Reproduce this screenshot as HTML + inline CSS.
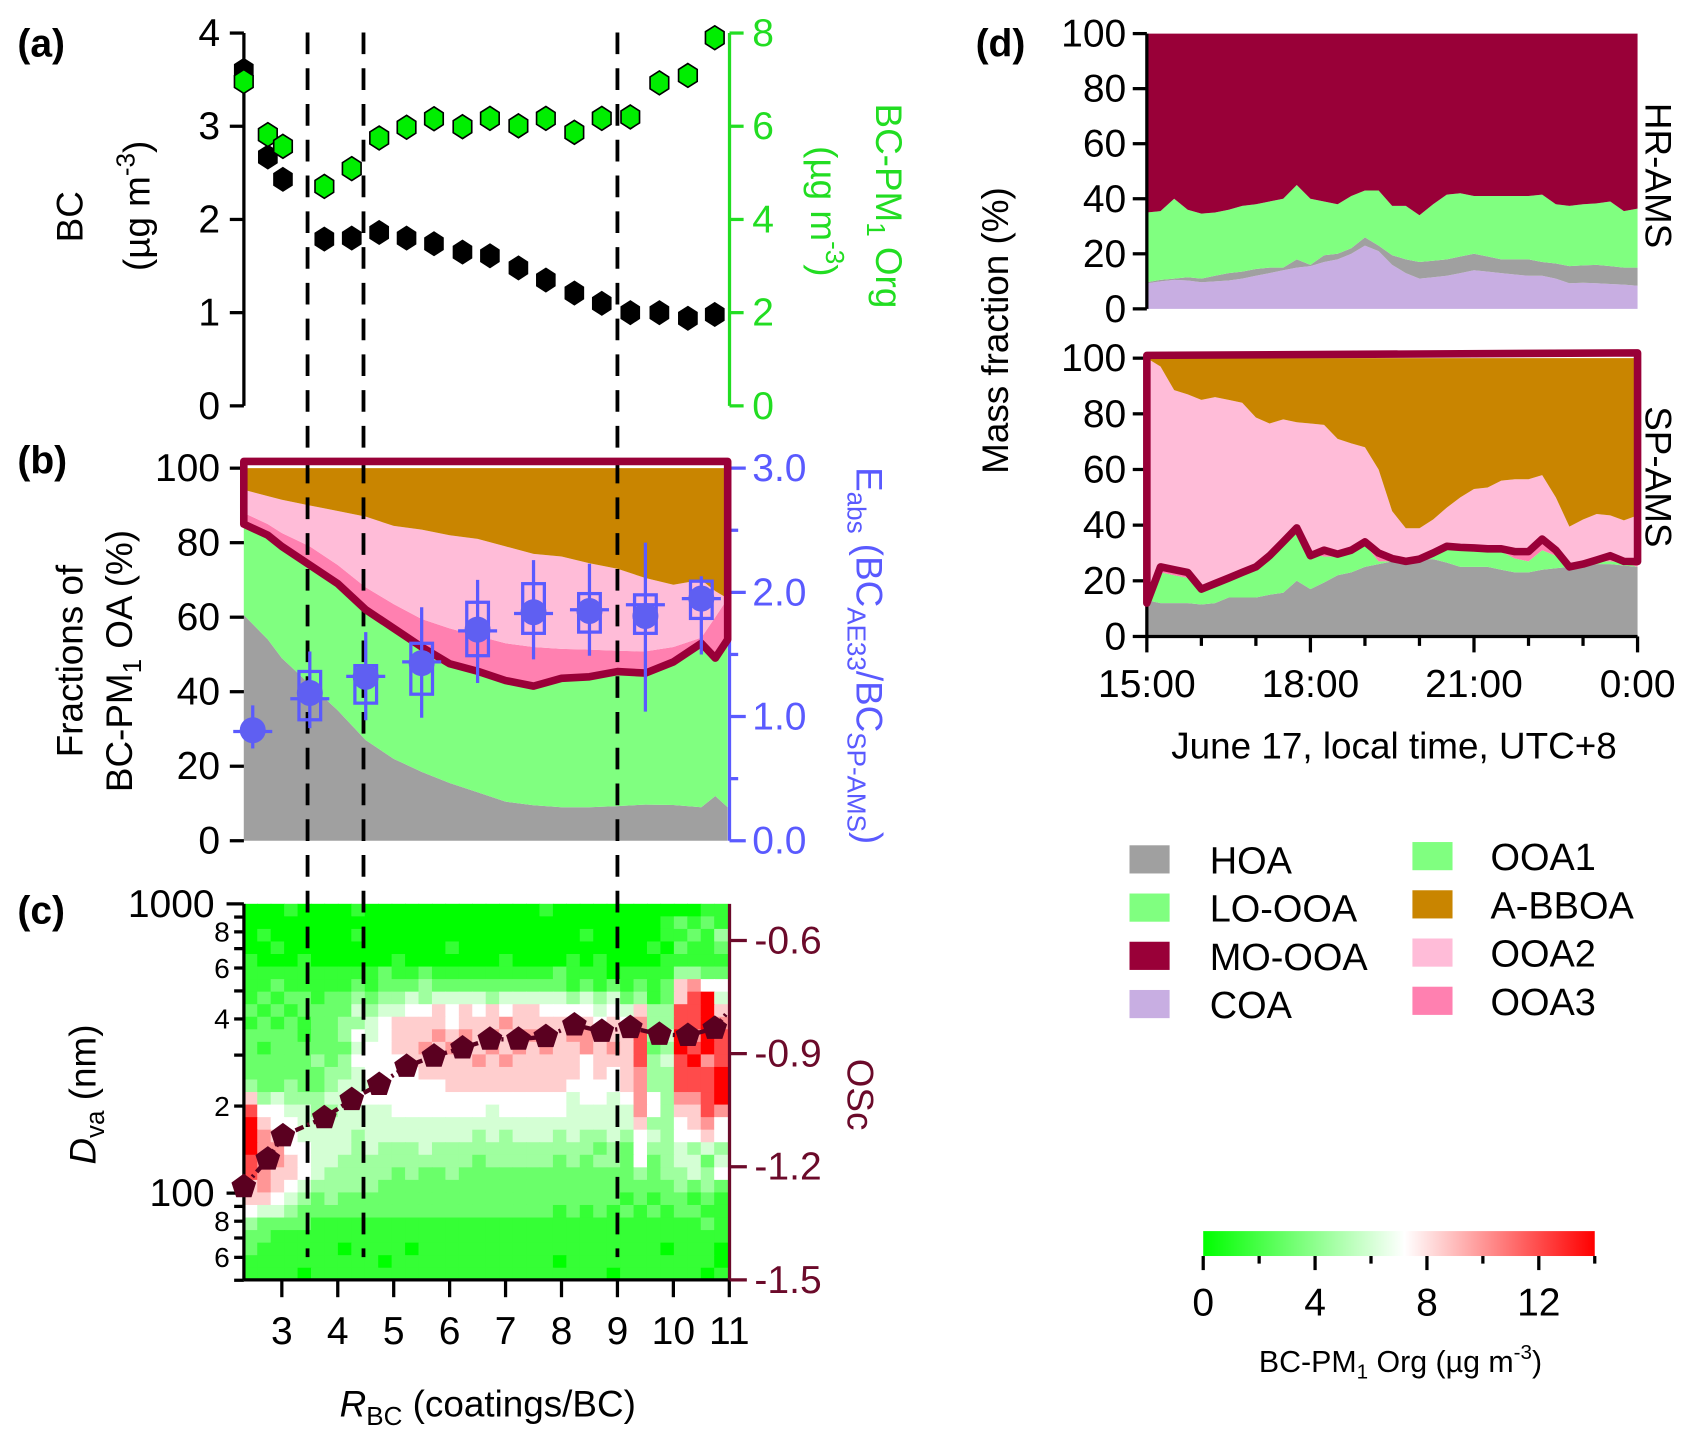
<!DOCTYPE html>
<html><head><meta charset="utf-8"><style>
html,body{margin:0;padding:0;background:#fff;}
svg{display:block;font-family:"Liberation Sans",Arial,sans-serif;}
</style></head><body>
<svg id="fig" width="1691" height="1437" viewBox="0 0 1560 1326" preserveAspectRatio="none" xmlns="http://www.w3.org/2000/svg">
<g id="heat"></g>
<g id="bfill"></g>
<g id="dfill"></g>
<g id="axes"></g>
<g id="marks"></g>
<g id="texts" font-size="36" fill="#000">
  <text x="16" y="52" font-weight="bold">(a)</text>
  <text x="16" y="437" font-weight="bold">(b)</text>
  <text x="16" y="852" font-weight="bold">(c)</text>
  <text x="900" y="52" font-weight="bold">(d)</text>
  <text transform="translate(76,200) rotate(-90)" text-anchor="middle" font-size="34">BC</text>
  <text transform="translate(138,190) rotate(-90)" text-anchor="middle" font-size="34">(µg m<tspan dy="-14" font-size="24">-3</tspan><tspan dy="14">)</tspan></text>
  <text transform="translate(808,190) rotate(90)" text-anchor="middle" font-size="34" fill="#22dd22">BC-PM<tspan dy="8" font-size="24">1</tspan><tspan dy="-8"> Org</tspan></text>
  <text transform="translate(748,195) rotate(90)" text-anchor="middle" font-size="34" fill="#22dd22">(µg m<tspan dy="-14" font-size="24">-3</tspan><tspan dy="14">)</tspan></text>
  <text transform="translate(76,610) rotate(-90)" text-anchor="middle" font-size="34">Fractions of</text>
  <text transform="translate(122,610) rotate(-90)" text-anchor="middle" font-size="34">BC-PM<tspan dy="8" font-size="24">1</tspan><tspan dy="-8"> OA (%)</tspan></text>
  <text transform="translate(790,605) rotate(90)" text-anchor="middle" font-size="34" fill="#5a5aff">E<tspan dy="8" font-size="24">abs</tspan><tspan dy="-8"> (BC</tspan><tspan dy="8" font-size="24">AE33</tspan><tspan dy="-8">/BC</tspan><tspan dy="8" font-size="24">SP-AMS</tspan><tspan dy="-8">)</tspan></text>
  <text transform="translate(88,1010) rotate(-90)" text-anchor="middle" font-size="34"><tspan font-style="italic">D</tspan><tspan dy="8" font-size="24">va</tspan><tspan dy="-8"> (nm)</tspan></text>
  <text transform="translate(782,1010) rotate(90)" text-anchor="middle" font-size="34" fill="#6b0a2a">OSc</text>
  <text x="450" y="1307" text-anchor="middle" font-size="34"><tspan font-style="italic">R</tspan><tspan dy="8" font-size="24">BC</tspan><tspan dy="-8"> (coatings/BC)</tspan></text>
  <text transform="translate(930,305) rotate(-90)" text-anchor="middle" font-size="34">Mass fraction (%)</text>
  <text transform="translate(1518,162) rotate(90)" text-anchor="middle" font-size="34">HR-AMS</text>
  <text transform="translate(1518,440) rotate(90)" text-anchor="middle" font-size="34">SP-AMS</text>
  <text x="1286" y="700" text-anchor="middle" font-size="34">June 17, local time, UTC+8</text>
  <text x="1292" y="1266" text-anchor="middle" font-size="28">BC-PM<tspan dy="6" font-size="19">1</tspan><tspan dy="-6"> Org (µg m</tspan><tspan dy="-12" font-size="19">-3</tspan><tspan dy="12">)</tspan></text>
</g>
<g id="legend" font-size="35"></g>
</svg>
<script>
// ---------- data ----------
const rPts = [2.32,2.75,3.02,3.76,4.25,4.74,5.23,5.72,6.23,6.72,7.23,7.72,8.23,8.72,9.23,9.75,10.26,10.74];
const bcVals = [3.6,2.67,2.43,1.79,1.8,1.86,1.8,1.74,1.65,1.61,1.48,1.35,1.21,1.10,1.0,1.0,0.94,0.98];
const orgVals = [6.96,5.82,5.57,4.71,5.09,5.75,5.98,6.16,5.99,6.17,6.01,6.17,5.87,6.17,6.2,6.93,7.09,7.9];
const oscVals = [-1.253,-1.18,-1.118,-1.07,-1.022,-0.982,-0.934,-0.907,-0.885,-0.862,-0.862,-0.855,-0.824,-0.841,-0.831,-0.849,-0.852,-0.833];
const dashR = [3.46,4.46,9.0];

const bR = [2.32,2.75,3.0,3.5,4.0,4.5,5.0,5.5,6.0,6.5,7.0,7.5,8.0,8.5,9.0,9.5,10.0,10.5,10.75,10.97];
const bHOA = [60.6,54,49,42,35,27,22,18.5,15.5,13,10.5,9.5,9,9,9.3,9.7,9.6,9,12,9];
const bOOA1 = [85,82,79,74,69,62,57,52,47.5,45.5,43,41.5,43.6,44,45.4,45,48,53,49,54];
const bOOA3 = [88,85,82.6,79,74,68,63.5,59.5,57,55,53,52,51.5,51.3,51,50.8,52,54.5,60,65];
const bOOA2 = [94.2,92.5,91.5,90,88.5,87,84.5,83.5,82,81,79,77,76.3,74.5,73,70.5,68.7,70,67,65];

const eR = [2.48,3.5,4.5,5.5,6.5,7.5,8.5,9.5,10.5];
const eMean = [0.89,1.19,1.32,1.43,1.70,1.84,1.85,1.81,1.95];
const eMed = [0.88,1.143,1.323,1.44,1.69,1.83,1.86,1.90,1.95];
const eQ3 = [null,1.363,1.41,1.59,1.92,2.07,1.99,1.98,2.09];
const eQ1 = [null,0.974,1.108,1.18,1.49,1.67,1.68,1.67,1.79];
const eHi = [1.09,1.524,1.68,1.88,2.10,2.26,2.23,2.40,2.13];
const eLo = [0.743,0.907,0.97,0.99,1.27,1.46,1.49,1.04,1.50];

// heatmap levels (rows top=1000 nm -> bottom=50 nm), digits 0-9 -> concentration
const heatLevels = [0,1.5,3,4.5,6,7.2,8.5,10,12,14];
const heatRows = [
"000100001000000000000010000000000011",
"000000000000000000000000000000012121",
"010000001000000000000000010000011213",
"001000000000000100000000000000102112",
"100010000001000000010000101000011111",
"111111111121121111111112111011113322",
"112111112122232222222222121212126755",
"121221223233434444344444343423126894",
"212122224344556565656655554546338896",
"121212233456666566676666665657338897",
"222212235456667676767766776668349798",
"212222224556676766767676676768239898",
"222223235555666667676666656668348978",
"222222334555566666666666656567338889",
"322322344455555666666666555567338889",
"634333445555555555555555455457537789",
"855443344445555555455555444447536687",
"965544444444444444444444444446335675",
"976544443444444443434443433435435565",
"977554443433343333333333332325334343",
"877654433333333332333332323325234424",
"876654333332322322222222222223233435",
"676543333322222222222222222222223232",
"665432322222222222222222222212122121",
"544322222222222222222221212121212211",
"322221111111111111111111111111111121",
"221111111111111111111111111111111111",
"211111101111011111111111111111101110",
"111111111101111111111110111111111110",
"111101111111111111111111111011111101"];

const dH = [0,0.25,0.5,0.75,1,1.25,1.5,1.75,2,2.25,2.5,2.75,3,3.25,3.5,3.75,4,4.25,4.5,4.75,5,5.25,5.5,5.75,6,6.25,6.5,6.75,7,7.25,7.5,7.75,8,8.25,8.5,8.75,9];
const hrCOA = [9.3,10,10.5,10.3,9.7,10,10.3,11,12,13,14,15,15.5,17,18,20,23,21,16,13,11,11.5,12,13,14,13.5,13,12.5,12,12,11,9.3,9.5,9.3,9,8.8,8.4];
const hrHOA = [9.7,10.5,11,11.5,11,12,13,13.5,14.5,15,15,18,16,19.5,20,22,26,23,19.5,18,17,17.5,18,19,20,19,18,18,18,17,16.5,15.5,15.8,16,15.5,15,15];
const hrLOOOA = [35,35.5,40,36,34.6,35,36,37.4,38,39,40,45,40,39,38,41,43,43,37.4,37.4,34,38,41.5,42,41,41,41,41,41,41.5,38,37.4,38,38.3,39,35.5,36.4];
const spHOA = [13,12,12,12,11.5,12,14,14,14,15,15.7,20,17,19.4,22,23,25,26,27,27,27.8,27.8,26.5,25,25,25,24,23,23,24,24.5,25,25.5,26,26,25.5,25];
const spOOA1 = [15.7,23,22,21,17.6,19,21,23,26,30,34,38,30,28.7,28.7,30,33,27,27,27,27.8,29,32,31,30.5,30.5,30.5,28,27,31,29,26,27,27,27,26.5,25];
const spLine = [12,25,24,23,17,19,21,23,25,29,34,39,29,31,29.6,31,34,30,28,27,27.8,30,32.4,32,31.8,31.5,31.5,30.5,30.5,35,31,25,26,27.5,29,27,26.9];
const spOOA2 = [100,97,88.5,87,85,86,85,84,78.7,76.5,78,77,76.5,76,71,69.4,68,60,45,38.9,38.9,42,46.3,50,53,53.5,56,56.5,56.5,58,50,39.5,42,44,43.5,41.7,43.5];

const legendNames = ["HOA","LO-OOA","MO-OOA","COA","OOA1","A-BBOA","OOA2","OOA3"];
const legendColors = ["#a0a0a0","#80ff80","#990038","#c8aee2","#80ff80","#c98500","#ffbcd8","#ff80b0"];
const cbTicks = [0,4,8,12];

// ---------- scales ----------
const NS="http://www.w3.org/2000/svg";
const xR = r => 260 + (r-3)*51.6;
const yBC = v => 374.5 - v*86;
const yOrg = v => 374.5 - v*43;
const yP = p => 775.8 - p*3.438;
const yE = e => 775.8 - e*114.6;
const yD = d => 834 + (3-Math.log10(d))*267;
const yOsc = o => 1181 - (o+1.5)*348;
const xT = h => 1058 + h*50.3;
const yU = p => 285 - p*2.54;
const yL = p => 587.3 - p*2.568;
const xCB = v => 1110 + v*25.8;

function mk(tag, attrs, parent){const e=document.createElementNS(NS,tag);for(const k in attrs)e.setAttribute(k,attrs[k]);parent.appendChild(e);return e;}
function heatColor(v){
  if(v<7.2){const t=v/7.2;const c=Math.round(255*t);return `rgb(${c},255,${c})`;}
  const t=Math.min(1,(v-7.2)/6.8);const c=Math.round(255*(1-t));return `rgb(255,${c},${c})`;
}
const heat=document.getElementById('heat'), bfill=document.getElementById('bfill'), dfill=document.getElementById('dfill');
const axes=document.getElementById('axes'), marks=document.getElementById('marks'), legend=document.getElementById('legend');

// ---------- heatmap ----------
const nCols=heatRows[0].length, nRows=heatRows.length;
const hx0=xR(2.32), hx1=xR(10.97);
const cw=(hx1-hx0)/nCols;
const logTop=3, logBot=Math.log10(50);
const rh=(logTop-logBot)/nRows;
heatRows.forEach((row,i)=>{
  for(let j=0;j<nCols;j++){
    const v=heatLevels[+row[j]];
    const yA=yD(Math.pow(10,logTop-rh*i)), yB=yD(Math.pow(10,logTop-rh*(i+1)));
    const r=mk('rect',{x:(hx0+j*cw).toFixed(2),y:yA.toFixed(2),width:(cw+0.6).toFixed(2),height:(yB-yA+0.6).toFixed(2),fill:heatColor(v)},heat);
    
    
  }
});

// ---------- area helper ----------
function area(parent,xs,lo,hi,xs_,ys_,color,name){
  let pts=[];
  for(let i=0;i<xs.length;i++)pts.push(xs_(xs[i]).toFixed(1)+','+ys_(hi[i]).toFixed(1));
  for(let i=xs.length-1;i>=0;i--)pts.push(xs_(xs[i]).toFixed(1)+','+ys_(lo[i]).toFixed(1));
  const p=mk('polygon',{points:pts.join(' '),fill:color},parent);
  
  
}
const zeros=a=>a.map(()=>0), hund=a=>a.map(()=>100);

area(bfill,bR,zeros(bR),bHOA,xR,yP,'#a0a0a0','b-hoa-area');
area(bfill,bR,bHOA,bOOA1,xR,yP,'#80ff80','b-ooa1-area');
area(bfill,bR,bOOA1,bOOA3,xR,yP,'#ff80b0','b-ooa3-area');
area(bfill,bR,bOOA3,bOOA2,xR,yP,'#ffbcd8','b-ooa2-area');
area(bfill,bR,bOOA2,hund(bR),xR,yP,'#c98500','b-abboa-area');

area(dfill,dH,zeros(dH),hrCOA,xT,yU,'#c8aee2','hr-coa-area');
area(dfill,dH,hrCOA,hrHOA,xT,yU,'#a0a0a0','hr-hoa-area');
area(dfill,dH,hrHOA,hrLOOOA,xT,yU,'#80ff80','hr-loooa-area');
area(dfill,dH,hrLOOOA,hund(dH),xT,yU,'#990038','hr-moooa-area');
area(dfill,dH,zeros(dH),spHOA,xT,yL,'#a0a0a0','sp-hoa-area');
area(dfill,dH,spHOA,spOOA1,xT,yL,'#80ff80','sp-ooa1-area');
const spOOA3=spLine.map((v,i)=>Math.max(spOOA1[i],v-1));
area(dfill,dH,spOOA1,spOOA3,xT,yL,'#ff80b0','sp-ooa3-area');
area(dfill,dH,spOOA3,spOOA2,xT,yL,'#ffbcd8','sp-ooa2-area');
area(dfill,dH,spOOA2,hund(dH),xT,yL,'#c98500','sp-abboa-area');

// ---------- axes helpers ----------
function line(x1,y1,x2,y2,color,w,name,parent){const l=mk('line',{x1,y1,x2,y2,stroke:color,'stroke-width':w},parent||axes);return l;}
function txt(x,y,s,anchor,color,size,name){const t=mk('text',{x,y,'text-anchor':anchor,fill:color,'font-size':size},axes);t.textContent=s;return t;}

// panel a
line(225,yBC(4),225,yBC(0),'#000',3,'a-left-axis');
[0,1,2,3,4].forEach(v=>{line(212,yBC(v),225,yBC(v),'#000',3,'a-left-tick');txt(203,yBC(v)+12,String(v),'end','#000',36,'a-left-tick-label');});
line(673,yOrg(8),673,yOrg(0),'#22dd22',3,'a-right-axis');
[0,2,4,6,8].forEach(v=>{line(673,yOrg(v),686,yOrg(v),'#22dd22',3,'a-right-tick');txt(694,yOrg(v)+12,String(v),'start','#22dd22',36,'a-right-tick-label');});

// panel b
[0,20,40,60,80,100].forEach(v=>{line(212,yP(v),225,yP(v),'#000',3,'b-left-tick');txt(203,yP(v)+12,String(v),'end','#000',36,'b-left-tick-label');});
line(673,yE(3),673,yE(0),'#5a5aff',3,'b-right-axis');
[0,0.5,1,1.5,2,2.5,3].forEach(v=>{const maj=Number.isInteger(v);line(673,yE(v),maj?688:681,yE(v),'#5a5aff',3,'b-right-tick');if(maj)txt(694,yE(v)+12,v.toFixed(1),'start','#5a5aff',36,'b-right-tick-label');});

// panel c
line(225,834,225,1181,'#000',3,'c-left-axis');
const dTicks=[1000,900,800,700,600,500,400,300,200,100,90,80,70,60,50];
dTicks.forEach(d=>{const maj=(d===1000||d===100);line(maj?209:216,yD(d),225,yD(d),'#000',3,'c-left-tick');});
txt(198,yD(1000)+12,'1000','end','#000',36,'c-tick-1000');
txt(198,yD(100)+12,'100','end','#000',36,'c-tick-100');
[[800,'8'],[600,'6'],[400,'4'],[200,'2'],[80,'8'],[60,'6']].forEach(a=>txt(212,yD(a[0])+9,a[1],'end','#000',26,'c-minor-label'));
line(225,1181,673,1181,'#000',3,'c-bottom-axis');
[3,4,5,6,7,8,9,10,11].forEach(v=>{line(xR(v),1181,xR(v),1197,'#000',3,'c-x-tick');txt(xR(v),1240,String(v),'middle','#000',36,'c-x-tick-label');});
line(673,834,673,1181,'#6b0a2a',3,'c-right-axis');
[-0.6,-0.9,-1.2,-1.5].forEach(v=>{line(673,yOsc(v),689,yOsc(v),'#6b0a2a',3,'c-right-tick');txt(696,yOsc(v)+12,v.toFixed(1),'start','#6b0a2a',36,'c-right-tick-label');});

// panel d
[[yU,'hr'],[yL,'sp']].forEach(([ys,n])=>{
  line(xT(0),ys(100),xT(0),ys(0),'#000',3,n+'-left-axis');
  [0,20,40,60,80,100].forEach(v=>{line(xT(0)-13,ys(v),xT(0),ys(v),'#000',3,n+'-left-tick');txt(xT(0)-19,ys(v)+12,String(v),'end','#000',36,n+'-left-tick-label');});
});
line(xT(0),587.3,xT(9),587.3,'#000',3,'d-bottom-axis');
const dTickLabels=['15:00','18:00','21:00','0:00'];
for(let h=0;h<=9;h++){const maj=h%3===0;line(xT(h),587.3,xT(h),maj?602:596,'#000',3,'d-x-tick');if(maj)txt(xT(h),643,dTickLabels[h/3],'middle','#000',36,'d-x-tick-label');}

// ---------- marks ----------
dashR.forEach(r=>{const l=line(xR(r),30,xR(r),1160,'#000',3.5,'dashed-divider',marks);l.setAttribute('stroke-dasharray','20,13');});

function hexPts(cx,cy,r){let p=[];for(let k=0;k<6;k++){const a=Math.PI/180*(60*k-90);p.push((cx+r*0.9*Math.cos(a)).toFixed(1)+','+(cy+r*Math.sin(a)).toFixed(1));}return p.join(' ');}
rPts.forEach((r,i)=>{const p=mk('polygon',{points:hexPts(xR(r),yBC(bcVals[i]),11),fill:'#000',stroke:'#000','stroke-width':1},marks);});
rPts.forEach((r,i)=>{const p=mk('polygon',{points:hexPts(xR(r),yOrg(orgVals[i]),11),fill:'#00ee00',stroke:'#000','stroke-width':1.5},marks);});

{
  let pts=[xR(bR[0])+','+yP(101.8)];
  bR.forEach((r,i)=>pts.push(xR(r).toFixed(1)+','+yP(bOOA1[i]).toFixed(1)));
  pts.push(xR(bR[bR.length-1]).toFixed(1)+','+yP(101.8));
  const p=mk('polygon',{points:pts.join(' '),fill:'none',stroke:'#990038','stroke-width':7,'stroke-linejoin':'round'},marks);
  
  
}
const blue='#5a5aff';
eR.forEach((r,i)=>{
  const x=xR(r);
  line(x,yE(eLo[i]),x,yE(eHi[i]),blue,3,'eabs-whisker',marks);
  if(eQ3[i]!==null){const b=mk('rect',{x:x-10,y:yE(eQ3[i]),width:20,height:yE(eQ1[i])-yE(eQ3[i]),fill:'none',stroke:blue,'stroke-width':3},marks);}
  line(x-18,yE(eMed[i]),x+18,yE(eMed[i]),blue,3,'eabs-median',marks);
  const c=mk('circle',{cx:x,cy:yE(eMean[i]),r:12,fill:'#5f5ff2'},marks);
});

{
  const pl=mk('polyline',{points:rPts.map((r,i)=>xR(r).toFixed(1)+','+yOsc(oscVals[i]).toFixed(1)).join(' ')+' '+xR(10.97)+','+yOsc(-0.79),fill:'none',stroke:'#5a0020','stroke-width':4,'stroke-dasharray':'8,4,2,4'},marks);
  
  rPts.forEach((r,i)=>{const cx=xR(r),cy=yOsc(oscVals[i]);let p=[];for(let k=0;k<5;k++){const a=Math.PI/180*(72*k-90);p.push((cx+12*Math.cos(a)).toFixed(1)+','+(cy+12*Math.sin(a)).toFixed(1));}
    const g=mk('polygon',{points:p.join(' '),fill:'#5a0020'},marks);});
}

{
  let pts=[xT(0)+','+yL(101)];
  dH.forEach((h,i)=>pts.push(xT(h).toFixed(1)+','+yL(spLine[i]).toFixed(1)));
  pts.push(xT(9)+','+yL(101.9));
  const p=mk('polygon',{points:pts.join(' '),fill:'none',stroke:'#990038','stroke-width':7,'stroke-linejoin':'round'},marks);
  
}

legendNames.forEach((n,i)=>{
  const col=Math.floor(i/4), row=i%4;
  const sx=col?1303:1042, tx=col?1375:1116, cy=(col?790:793)+row*44.5;
  const r=mk('rect',{x:sx,y:cy-13,width:37,height:26,fill:legendColors[i]},legend);
  
  const t=mk('text',{x:tx,y:cy+13},legend);t.textContent=n;
  
});

{
  const defs=mk('defs',{},document.getElementById('fig'));
  const g=mk('linearGradient',{id:'cbg',x1:0,x2:1,y1:0,y2:0},defs);
  [[0,'#00ff00'],[7.2/14,'#ffffff'],[1,'#ff0000']].forEach(s=>mk('stop',{offset:s[0],'stop-color':s[1]},g));
  const r=mk('rect',{x:xCB(0),y:1136,width:xCB(14)-xCB(0),height:23,fill:'url(#cbg)'},axes);
  
  for(let v=0;v<=14;v+=2){const maj=v%4===0;line(xCB(v),1159,xCB(v),maj?1172:1166,'#000',3,'colorbar-tick');}
  cbTicks.forEach(v=>txt(xCB(v),1214,String(v),'middle','#000',36,'colorbar-tick-label'));
}
</script>
</body></html>
